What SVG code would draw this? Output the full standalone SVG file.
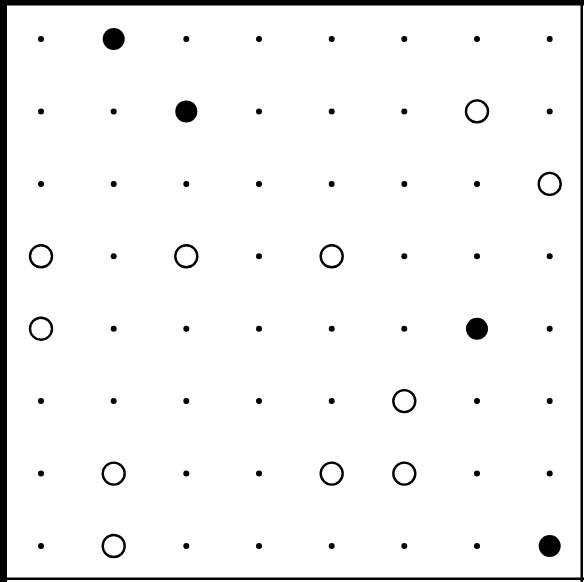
<svg xmlns="http://www.w3.org/2000/svg" width="584" height="582" viewBox="0 0 584 582">
<style>
.d{fill:#000}
.f{fill:#000}
.o{fill:#fff;stroke:#000;stroke-width:2.4}
</style>
<rect width="584" height="582" fill="#fff"/>
<g id="frame" fill="#000">
<rect x="0" y="0" width="7" height="582"/>
<rect x="0" y="0" width="584" height="5.5"/>
<rect x="580.5" y="0" width="2.5" height="582"/>
<rect x="0" y="577.5" width="584" height="2.5"/>
</g>
<g id="row0">
<circle class="d" cx="41" cy="39" r="3"/>
<circle class="f" cx="113.7" cy="39" r="11"/>
<circle class="d" cx="186.3" cy="39" r="3"/>
<circle class="d" cx="259" cy="39" r="3"/>
<circle class="d" cx="331.7" cy="39" r="3"/>
<circle class="d" cx="404.3" cy="39" r="3"/>
<circle class="d" cx="477" cy="39" r="3"/>
<circle class="d" cx="549.7" cy="39" r="3"/>
</g>
<g id="row1">
<circle class="d" cx="41" cy="111.4" r="3"/>
<circle class="d" cx="113.7" cy="111.4" r="3"/>
<circle class="f" cx="186.3" cy="111.4" r="11"/>
<circle class="d" cx="259" cy="111.4" r="3"/>
<circle class="d" cx="331.7" cy="111.4" r="3"/>
<circle class="d" cx="404.3" cy="111.4" r="3"/>
<circle class="o" cx="477" cy="111.4" r="11"/>
<circle class="d" cx="549.7" cy="111.4" r="3"/>
</g>
<g id="row2">
<circle class="d" cx="41" cy="183.9" r="3"/>
<circle class="d" cx="113.7" cy="183.9" r="3"/>
<circle class="d" cx="186.3" cy="183.9" r="3"/>
<circle class="d" cx="259" cy="183.9" r="3"/>
<circle class="d" cx="331.7" cy="183.9" r="3"/>
<circle class="d" cx="404.3" cy="183.9" r="3"/>
<circle class="d" cx="477" cy="183.9" r="3"/>
<circle class="o" cx="549.7" cy="183.9" r="11"/>
</g>
<g id="row3">
<circle class="o" cx="41" cy="256.3" r="11"/>
<circle class="d" cx="113.7" cy="256.3" r="3"/>
<circle class="o" cx="186.3" cy="256.3" r="11"/>
<circle class="d" cx="259" cy="256.3" r="3"/>
<circle class="o" cx="331.7" cy="256.3" r="11"/>
<circle class="d" cx="404.3" cy="256.3" r="3"/>
<circle class="d" cx="477" cy="256.3" r="3"/>
<circle class="d" cx="549.7" cy="256.3" r="3"/>
</g>
<g id="row4">
<circle class="o" cx="41" cy="328.7" r="11"/>
<circle class="d" cx="113.7" cy="328.7" r="3"/>
<circle class="d" cx="186.3" cy="328.7" r="3"/>
<circle class="d" cx="259" cy="328.7" r="3"/>
<circle class="d" cx="331.7" cy="328.7" r="3"/>
<circle class="d" cx="404.3" cy="328.7" r="3"/>
<circle class="f" cx="477" cy="328.7" r="11"/>
<circle class="d" cx="549.7" cy="328.7" r="3"/>
</g>
<g id="row5">
<circle class="d" cx="41" cy="401.1" r="3"/>
<circle class="d" cx="113.7" cy="401.1" r="3"/>
<circle class="d" cx="186.3" cy="401.1" r="3"/>
<circle class="d" cx="259" cy="401.1" r="3"/>
<circle class="d" cx="331.7" cy="401.1" r="3"/>
<circle class="o" cx="404.3" cy="401.1" r="11"/>
<circle class="d" cx="477" cy="401.1" r="3"/>
<circle class="d" cx="549.7" cy="401.1" r="3"/>
</g>
<g id="row6">
<circle class="d" cx="41" cy="473.6" r="3"/>
<circle class="o" cx="113.7" cy="473.6" r="11"/>
<circle class="d" cx="186.3" cy="473.6" r="3"/>
<circle class="d" cx="259" cy="473.6" r="3"/>
<circle class="o" cx="331.7" cy="473.6" r="11"/>
<circle class="o" cx="404.3" cy="473.6" r="11"/>
<circle class="d" cx="477" cy="473.6" r="3"/>
<circle class="d" cx="549.7" cy="473.6" r="3"/>
</g>
<g id="row7">
<circle class="d" cx="41" cy="546" r="3"/>
<circle class="o" cx="113.7" cy="546" r="11"/>
<circle class="d" cx="186.3" cy="546" r="3"/>
<circle class="d" cx="259" cy="546" r="3"/>
<circle class="d" cx="331.7" cy="546" r="3"/>
<circle class="d" cx="404.3" cy="546" r="3"/>
<circle class="d" cx="477" cy="546" r="3"/>
<circle class="f" cx="549.7" cy="546" r="11"/>
</g>
</svg>
